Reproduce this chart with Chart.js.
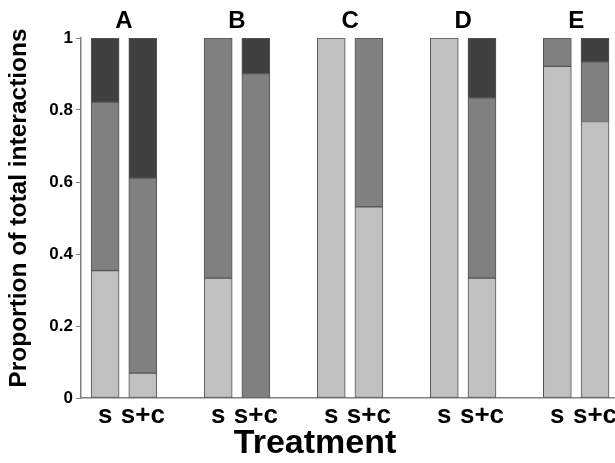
<!DOCTYPE html>
<html>
<head>
<meta charset="utf-8">
<script src="https://cdn.jsdelivr.net/npm/chart.js@4"></script>
<style>
  body { margin: 0; background: #fff; }
  #wrap { width: 615px; height: 463px; position: relative; }
</style>
</head>
<body>
<div id="wrap"><canvas id="chart"></canvas></div>
<script>
// groups and treatments
const groups = ['A', 'B', 'C', 'D', 'E'];
const treatments = ['s', 's+c'];
// proportions per bar, order: A s, A s+c, B s, B s+c, ...
const lightVals = [0.354, 0.069, 0.333, 0, 1, 0.531, 1, 0.333, 0.921, 0.768];
const midVals   = [0.468, 0.542, 0.667, 0.901, 0, 0.469, 0, 0.501, 0.079, 0.166];
const darkVals  = [0.178, 0.389, 0, 0.099, 0, 0, 0, 0.166, 0, 0.066];
const yTicks = [0, 0.2, 0.4, 0.6, 0.8, 1];

const FONT = '"Liberation Sans", Arial, sans-serif';

// bar positions on x: two bars per group, one empty slot between groups
const positions = [];
const labelAt = {};
groups.forEach((g, gi) => {
    treatments.forEach((t, ti) => {
        const x = gi * 3 + ti;
        positions.push(x);
        labelAt[x] = t;
    });
});

function series(vals) {
    return vals.map((v, i) => ({ x: positions[i], y: v === 0 ? null : v }));
}

function makeSet(vals, color) {
    return {
        data: series(vals),
        backgroundColor: color,
        borderColor: '#555555',
        borderWidth: 1,
        borderSkipped: false,
        barThickness: 28
    };
}

const extraText = {
    id: 'extraText',
    afterDraw(chart) {
        const ctx = chart.ctx;
        const xs = chart.scales.x;
        ctx.save();
        ctx.fillStyle = '#000';
        ctx.textAlign = 'center';
        ctx.textBaseline = 'middle';
        ctx.font = 'bold 24px ' + FONT;
        groups.forEach((g, gi) => {
            ctx.fillText(g, xs.getPixelForValue(gi * 3 + 0.5), 21);
        });
        ctx.font = 'bold 34px ' + FONT;
        ctx.fillText('Treatment', 315, 444);
        ctx.translate(19, 208);
        ctx.rotate(-Math.PI / 2);
        ctx.font = 'bold 24.5px ' + FONT;
        ctx.fillText('Proportion of total interactions', 0, 0);
        ctx.restore();
    }
};

new Chart(document.getElementById('chart'), {
    type: 'bar',
    data: {
        datasets: [
            makeSet(lightVals, '#c0c0c0'),
            makeSet(midVals, '#808080'),
            makeSet(darkVals, '#404040')
        ]
    },
    options: {
        responsive: true,
        maintainAspectRatio: false,
        animation: false,
        layout: { padding: { top: 38, right: 0, left: 0, bottom: 0 } },
        plugins: {
            legend: { display: false },
            tooltip: { enabled: false }
        },
        scales: {
            x: {
                type: 'linear',
                stacked: true,
                offset: false,
                min: -0.64,
                max: 13.53,
                afterBuildTicks: (scale) => {
                    scale.ticks = positions.map(v => ({ value: v }));
                },
                afterFit: (scale) => { scale.height = 65; },
                grid: { display: false },
                border: { display: true, color: '#808080', width: 1.5 },
                ticks: {
                    autoSkip: false,
                    maxRotation: 0,
                    padding: -6,
                    color: '#000',
                    font: { family: FONT, size: 26, weight: 'bold' },
                    callback: (v) => labelAt[v] || ''
                }
            },
            y: {
                stacked: true,
                min: 0,
                max: 1,
                afterBuildTicks: (scale) => {
                    scale.ticks = yTicks.map(v => ({ value: v }));
                },
                afterFit: (scale) => { scale.width = 81; },
                grid: {
                    drawOnChartArea: false,
                    drawTicks: true,
                    tickLength: 5,
                    color: '#808080'
                },
                border: { display: true, color: '#808080', width: 1.5 },
                ticks: {
                    padding: 3,
                    color: '#000',
                    font: { family: FONT, size: 17, weight: 'bold' },
                    callback: (v) => String(v)
                }
            }
        }
    },
    plugins: [extraText]
});
</script>
</body>
</html>
